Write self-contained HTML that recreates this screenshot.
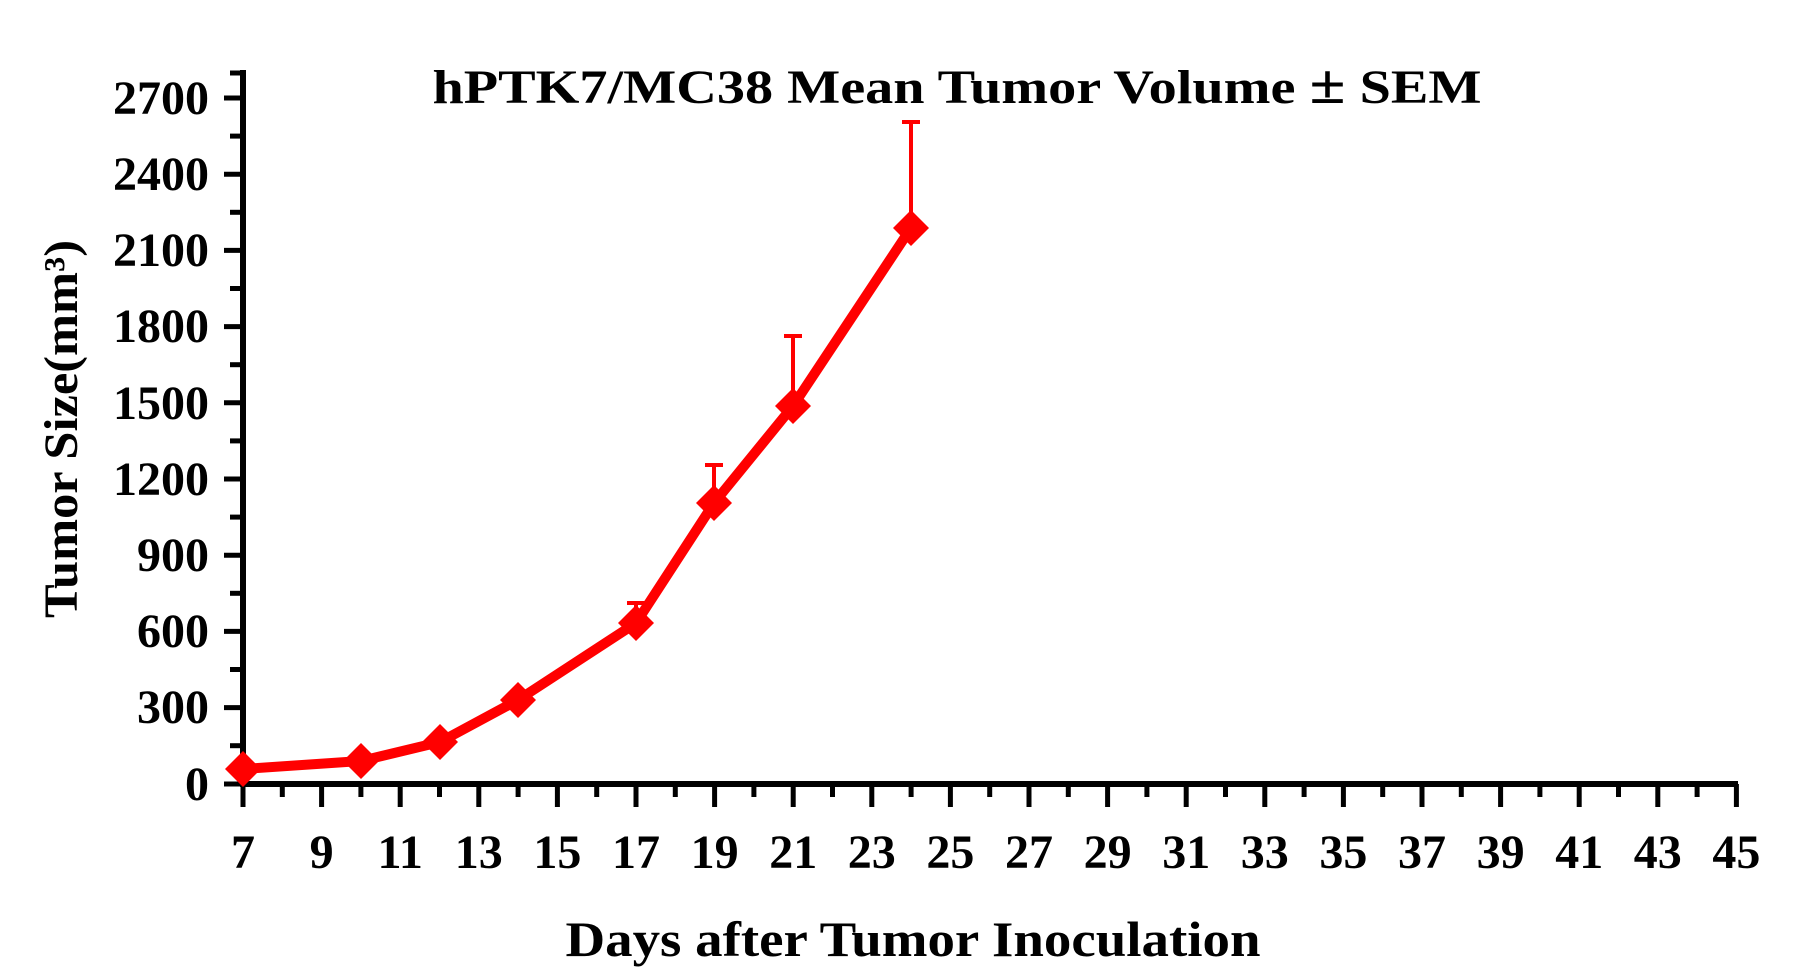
<!DOCTYPE html>
<html><head><meta charset="utf-8"><style>html,body{margin:0;padding:0;background:#fff}svg{display:block}svg text{font-family:"Liberation Serif","Times New Roman",serif;font-weight:bold}</style></head>
<body>
<svg width="1802" height="978" viewBox="0 0 1802 978" xmlns="http://www.w3.org/2000/svg">
<rect width="1802" height="978" fill="#fff"/>
<line x1="243" y1="70" x2="243" y2="787" stroke="#000" stroke-width="6"/>
<line x1="240" y1="784" x2="1738" y2="784" stroke="#000" stroke-width="6"/>
<line x1="230" y1="73" x2="246" y2="73" stroke="#000" stroke-width="5"/>
<g stroke="#000" stroke-width="5">
<line x1="224" y1="98" x2="243" y2="98"/><line x1="230" y1="136.1" x2="243" y2="136.1"/>
<line x1="224" y1="174.2" x2="243" y2="174.2"/><line x1="230" y1="212.3" x2="243" y2="212.3"/>
<line x1="224" y1="250.4" x2="243" y2="250.4"/><line x1="230" y1="288.5" x2="243" y2="288.5"/>
<line x1="224" y1="326.6" x2="243" y2="326.6"/><line x1="230" y1="364.7" x2="243" y2="364.7"/>
<line x1="224" y1="402.8" x2="243" y2="402.8"/><line x1="230" y1="440.9" x2="243" y2="440.9"/>
<line x1="224" y1="479" x2="243" y2="479"/><line x1="230" y1="517.1" x2="243" y2="517.1"/>
<line x1="224" y1="555.2" x2="243" y2="555.2"/><line x1="230" y1="593.3" x2="243" y2="593.3"/>
<line x1="224" y1="631.4" x2="243" y2="631.4"/><line x1="230" y1="669.5" x2="243" y2="669.5"/>
<line x1="224" y1="707.6" x2="243" y2="707.6"/><line x1="230" y1="745.7" x2="243" y2="745.7"/>
<line x1="224" y1="784" x2="243" y2="784"/>
</g>
<g font-size="48" text-anchor="end" fill="#000">
<text x="209" y="114">2700</text><text x="209" y="190">2400</text><text x="209" y="266">2100</text>
<text x="209" y="342">1800</text><text x="209" y="419">1500</text><text x="209" y="495">1200</text>
<text x="209" y="571">900</text><text x="209" y="647">600</text><text x="209" y="723">300</text>
<text x="209" y="800">0</text>
</g>
<g id="xt" stroke="#000" stroke-width="5"></g>
<g id="xl" font-size="48" text-anchor="middle" fill="#000"></g>
<text x="957" y="103" font-size="48" text-anchor="middle" textLength="1049" lengthAdjust="spacingAndGlyphs">hPTK7/MC38 Mean Tumor Volume <tspan font-size="56">±</tspan> SEM</text>
<text x="913" y="956" font-size="50" text-anchor="middle" textLength="695" lengthAdjust="spacingAndGlyphs">Days after Tumor Inoculation</text>
<text transform="translate(77,429) rotate(-90)" font-size="48" text-anchor="middle" textLength="378" lengthAdjust="spacingAndGlyphs">Tumor Size(mm³)</text>
<g stroke="#f00" stroke-width="4">
<line x1="636" y1="623" x2="636" y2="603"/><line x1="627" y1="603" x2="645" y2="603"/>
<line x1="714" y1="503" x2="714" y2="465"/><line x1="705" y1="465" x2="723" y2="465"/>
<line x1="793" y1="406" x2="793" y2="336"/><line x1="784" y1="336" x2="802" y2="336"/>
<line x1="911" y1="228" x2="911" y2="122"/><line x1="902" y1="122" x2="920" y2="122"/>
</g>
<polyline fill="none" stroke="#f00" stroke-width="10" stroke-linejoin="round" points="243,769 361,761 440,742 518,700 636,623 714,503 793,406 911,228"/>
<g fill="#f00" id="mk"></g>
<script>
var ns="http://www.w3.org/2000/svg";
var xt=document.getElementById('xt'),xl=document.getElementById('xl'),mk=document.getElementById('mk');
for(var d=7;d<=45;d++){var x=243+(d-7)*39.3;var l=document.createElementNS(ns,'line');
l.setAttribute('x1',x);l.setAttribute('x2',x);l.setAttribute('y1',784);l.setAttribute('y2',d%2?807:797);xt.appendChild(l);
if(d%2){var t=document.createElementNS(ns,'text');t.setAttribute('x',x);t.setAttribute('y',868);t.textContent=d;xl.appendChild(t);}}
[[243,769],[361,761],[440,742],[518,700],[636,623],[714,503],[793,406],[911,228]].forEach(function(p){
var g=document.createElementNS(ns,'polygon');var x=p[0],y=p[1];
g.setAttribute('points',(x-18)+','+y+' '+x+','+(y-18)+' '+(x+18)+','+y+' '+x+','+(y+18));mk.appendChild(g);});
</script>
</svg>
</body></html>
